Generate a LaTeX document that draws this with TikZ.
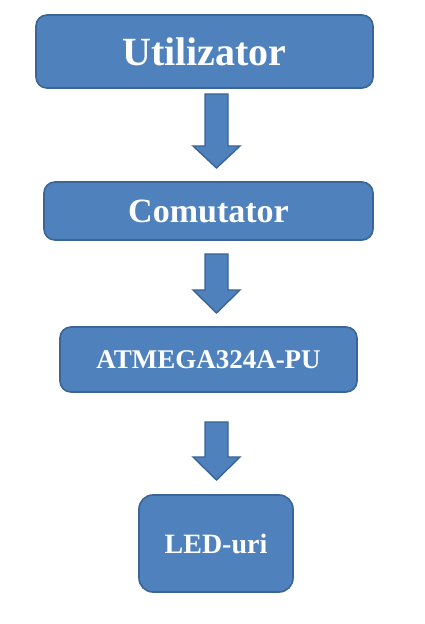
\documentclass[tikz,border=0pt]{standalone}
\usepackage{fontspec}
\setmainfont{Liberation Serif}
\definecolor{boxfill}{HTML}{4F81BD}
\definecolor{boxline}{HTML}{3A6596}
\begin{document}
\begin{tikzpicture}[x=1pt,y=1pt,
  blk/.style={draw=boxline, fill=boxfill, line width=1.6pt, rounded corners=11pt, inner sep=0pt, text=white, font=\bfseries},
  barrow/.style={draw=boxline, fill=boxfill, line width=1.4pt, line join=miter}]
\useasboundingbox (0,0) rectangle (424,624);
% boxes
\node[blk, minimum width=337pt, minimum height=73pt, font=\bfseries\fontsize{40}{40}\selectfont] (b1) at (204.5,572.5) {Utilizator};
\node[blk, minimum width=329pt, minimum height=58pt, font=\bfseries\fontsize{34}{34}\selectfont] (b2) at (208.5,413) {Comutator};
\node[blk, minimum width=297pt, minimum height=65pt, font=\bfseries\fontsize{27}{27}\selectfont] (b3) at (208.5,264.5) {ATMEGA324A-PU};
\node[blk, rounded corners=14pt, minimum width=154pt, minimum height=97pt, font=\bfseries\fontsize{28}{28}\selectfont] (b4) at (216,80.5) {LED-uri};
% block arrows
\coordinate (a1) at (216.5,530);
\draw[barrow] (a1) ++(-11.5,0) -- ++(0,-52) -- ++(-12,0) -- (216.5,456) -- (240,478) -- ++(-12,0) -- ++(0,52) -- cycle;
\coordinate (a2) at (216.5,370);
\draw[barrow] (a2) ++(-11.5,0) -- ++(0,-36) -- ++(-12,0) -- (216.5,311) -- (240,334) -- ++(-12,0) -- ++(0,36) -- cycle;
\coordinate (a3) at (216.5,202);
\draw[barrow] (a3) ++(-11.5,0) -- ++(0,-35) -- ++(-12,0) -- (216.5,144) -- (240,167) -- ++(-12,0) -- ++(0,35) -- cycle;
\end{tikzpicture}
\end{document}
